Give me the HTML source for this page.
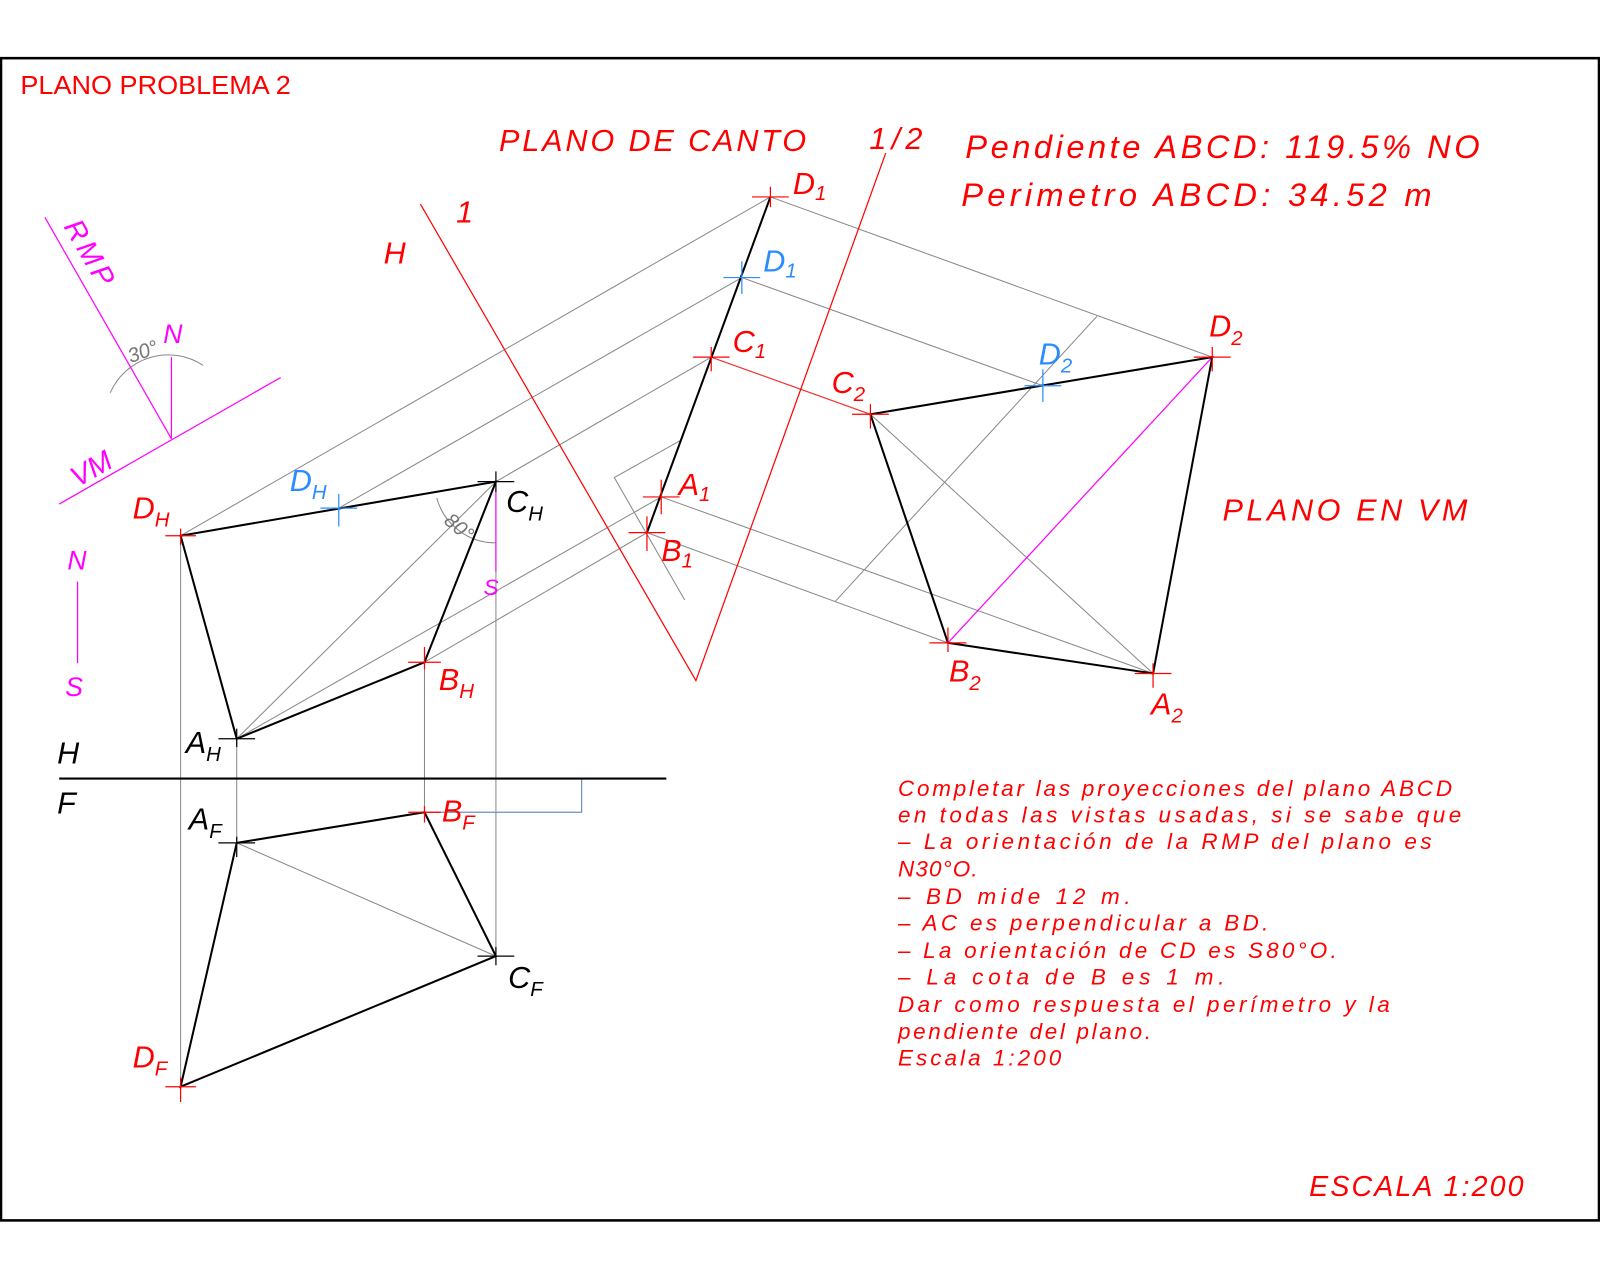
<!DOCTYPE html>
<html><head><meta charset="utf-8"><style>
html,body{margin:0;padding:0;background:#fff;}
svg{display:block;}
text{font-family:"Liberation Sans",sans-serif;}
.i{font-style:italic;font-weight:normal;}
</style></head><body>
<svg width="1600" height="1280" viewBox="0 0 1568 1254.4" xmlns="http://www.w3.org/2000/svg">
<rect x="1" y="57" width="1566" height="1139" fill="none" stroke="#000" stroke-width="2.5"/>
<text x="20" y="92" font-size="25" fill="#f00" textLength="265" lengthAdjust="spacingAndGlyphs">PLANO PROBLEMA 2</text>

<g stroke="#888" stroke-width="1" fill="none">
<line x1="177" y1="525" x2="755" y2="193"/>
<line x1="332" y1="498" x2="727" y2="272"/>
<line x1="486" y1="472" x2="697" y2="350"/>
<line x1="416" y1="649" x2="634" y2="522"/>
<line x1="232" y1="724" x2="648" y2="487"/>
<line x1="232" y1="724" x2="486" y2="472"/>
<polyline points="668,431 602,468 671,588"/>
<line x1="755" y1="193" x2="1188" y2="350"/>
<line x1="727" y1="272" x2="1022" y2="378"/>
<line x1="648" y1="487" x2="1130" y2="660"/>
<line x1="634" y1="522" x2="929" y2="630"/>
<line x1="853" y1="406" x2="1130" y2="660"/>
<line x1="1075" y1="310" x2="818" y2="590"/>
<line x1="177" y1="525" x2="177" y2="1065"/>
<line x1="232" y1="724" x2="232" y2="826"/>
<line x1="416" y1="649" x2="416" y2="796"/>
<line x1="486" y1="472" x2="486" y2="937"/>
<line x1="232" y1="826" x2="486" y2="937"/>
<path d="M428,488 A60,60 0 0 0 486,532"/>
<path d="M108,385 A62,62 0 0 1 199,358"/>
</g>
<line x1="697" y1="350" x2="853" y2="406" stroke="#e33" stroke-width="1.2"/>
<polyline points="416,796 570,796 570,763" fill="none" stroke="#7090c0" stroke-width="1.2"/>

<g stroke="#f00" stroke-width="1.2" fill="none">
<polyline points="412,200 682,667 868,150"/>
</g>

<g stroke="#f0f" stroke-width="1.2" fill="none">
<line x1="44" y1="213" x2="168" y2="430"/>
<line x1="58" y1="494" x2="275" y2="370"/>
<line x1="168" y1="430" x2="168" y2="350"/>
<line x1="76" y1="570" x2="76" y2="650"/>
<line x1="486" y1="480" x2="486" y2="560"/>
<line x1="929" y1="630" x2="1188" y2="350"/>
</g>

<g stroke="#000" stroke-width="2" fill="none">
<polygon points="177,525 486,472 416,649 232,724"/>
<polygon points="232,826 416,796 486,937 177,1065"/>
<line x1="755" y1="193" x2="634" y2="522"/>
<polygon points="1188,350 853,406 929,630 1130,660"/>
</g>
<line x1="58" y1="763" x2="653" y2="763" stroke="#000" stroke-width="2"/>

<g stroke="#f00" stroke-width="1.2">
<path d="M737,193h36M755,183v20"/>
<path d="M679,350h36M697,340v24"/>
<path d="M630,487h36M648,470v34"/>
<path d="M616,522h36M634,506v34"/>
<path d="M1170,350h36M1188,340v24"/>
<path d="M835,406h36M853,396v24"/>
<path d="M911,630h36M929,615v24"/>
<path d="M1112,660h36M1130,650v24"/>
<path d="M162,525h30M177,518v16"/>
<path d="M400,649h32M416,634v22"/>
<path d="M400,796h32M416,790v16"/>
<path d="M162,1065h30M177,1056v24"/>
</g>
<g stroke="#000" stroke-width="1.2">
<path d="M468,472h36M486,462v20"/>
<path d="M214,724h36M232,714v18"/>
<path d="M214,826h36M232,820v20"/>
<path d="M468,937h36M486,928v18"/>
</g>
<g stroke="#2a8cff" stroke-width="1.2">
<path d="M709,272h36M727,256v32"/>
<path d="M1004,378h36M1022,362v32"/>
<path d="M314,498h36M332,484v32"/>
</g>

<g class="i" fill="#f00" font-size="30">
<text x="777" y="190">D<tspan font-size="20" dy="6">1</tspan></text>
<text x="718" y="345">C<tspan font-size="20" dy="6">1</tspan></text>
<text x="665" y="485">A<tspan font-size="20" dy="6">1</tspan></text>
<text x="648" y="550">B<tspan font-size="20" dy="6">1</tspan></text>
<text x="1185" y="330">D<tspan font-size="20" dy="8">2</tspan></text>
<text x="815" y="385">C<tspan font-size="20" dy="8">2</tspan></text>
<text x="930" y="668">B<tspan font-size="20" dy="8">2</tspan></text>
<text x="1128" y="700">A<tspan font-size="20" dy="8">2</tspan></text>
<text x="130" y="508">D<tspan font-size="20" dy="8">H</tspan></text>
<text x="430" y="676">B<tspan font-size="20" dy="8">H</tspan></text>
<text x="433" y="805">B<tspan font-size="20" dy="8">F</tspan></text>
<text x="130" y="1046">D<tspan font-size="20" dy="8">F</tspan></text>
<text x="376" y="258">H</text>
<text x="447" y="218">1</text>
<text x="852" y="146" textLength="52" lengthAdjust="spacing">1/2</text>
<text x="489" y="148" textLength="301" lengthAdjust="spacing">PLANO  DE  CANTO</text>
<text x="946" y="155" font-size="32" textLength="504" lengthAdjust="spacing">Pendiente  ABCD:  119.5%  NO</text>
<text x="942" y="202" font-size="32" textLength="461" lengthAdjust="spacing">Perimetro  ABCD:  34.52  m</text>
<text x="1198" y="510" textLength="240" lengthAdjust="spacing">PLANO  EN  VM</text>
<text x="1283" y="1172" font-size="28" textLength="210" lengthAdjust="spacing">ESCALA  1:200</text>
</g>
<g class="i" fill="#2a8cff" font-size="30">
<text x="748" y="266">D<tspan font-size="20" dy="6">1</tspan></text>
<text x="1018" y="357">D<tspan font-size="20" dy="8">2</tspan></text>
<text x="284" y="481">D<tspan font-size="20" dy="8">H</tspan></text>
</g>
<g class="i" fill="#000" font-size="30">
<text x="496" y="502">C<tspan font-size="20" dy="8">H</tspan></text>
<text x="182" y="738">A<tspan font-size="20" dy="8">H</tspan></text>
<text x="185" y="813">A<tspan font-size="20" dy="8">F</tspan></text>
<text x="498" y="968">C<tspan font-size="20" dy="8">F</tspan></text>
<text x="56" y="748">H</text>
<text x="56" y="797">F</text>
</g>
<g class="i" fill="#f0f" font-size="26">
<text x="160" y="336">N</text>
<text x="66" y="558">N</text>
<text x="64" y="682">S</text>
<text x="474" y="583" font-size="22">S</text>
<text x="62" y="222" font-size="28" transform="rotate(60 62 222)" textLength="70" lengthAdjust="spacing">RMP</text>
<text x="76" y="478" font-size="28" transform="rotate(-30 76 478)">VM</text>
</g>
<g class="i" fill="#777" font-size="20">
<text x="128" y="356" transform="rotate(-20 128 356)">30°</text>
<text x="434" y="512" transform="rotate(40 434 512)">80°</text>
</g>
<g class="i" fill="#f00" font-size="22">
<text x="880" y="780" textLength="543" lengthAdjust="spacing">Completar  las  proyecciones  del  plano  ABCD</text>
<text x="880" y="806" textLength="552" lengthAdjust="spacing">en  todas  las  vistas  usadas,  si  se  sabe  que</text>
<text x="880" y="832" textLength="523" lengthAdjust="spacing">–  La  orientación  de  la  RMP  del  plano  es</text>
<text x="880" y="859" textLength="78" lengthAdjust="spacing">N30°O.</text>
<text x="880" y="886" textLength="228" lengthAdjust="spacing">–  BD  mide  12  m.</text>
<text x="880" y="912" textLength="363" lengthAdjust="spacing">–  AC  es  perpendicular  a  BD.</text>
<text x="880" y="939" textLength="430" lengthAdjust="spacing">–  La  orientación  de  CD  es  S80°O.</text>
<text x="880" y="965" textLength="320" lengthAdjust="spacing">–  La  cota  de  B  es  1  m.</text>
<text x="880" y="992" textLength="482" lengthAdjust="spacing">Dar  como  respuesta  el  perímetro  y  la</text>
<text x="880" y="1018" textLength="248" lengthAdjust="spacing">pendiente  del  plano.</text>
<text x="880" y="1044" textLength="160" lengthAdjust="spacing">Escala  1:200</text>
</g>
</svg>
</body></html>
